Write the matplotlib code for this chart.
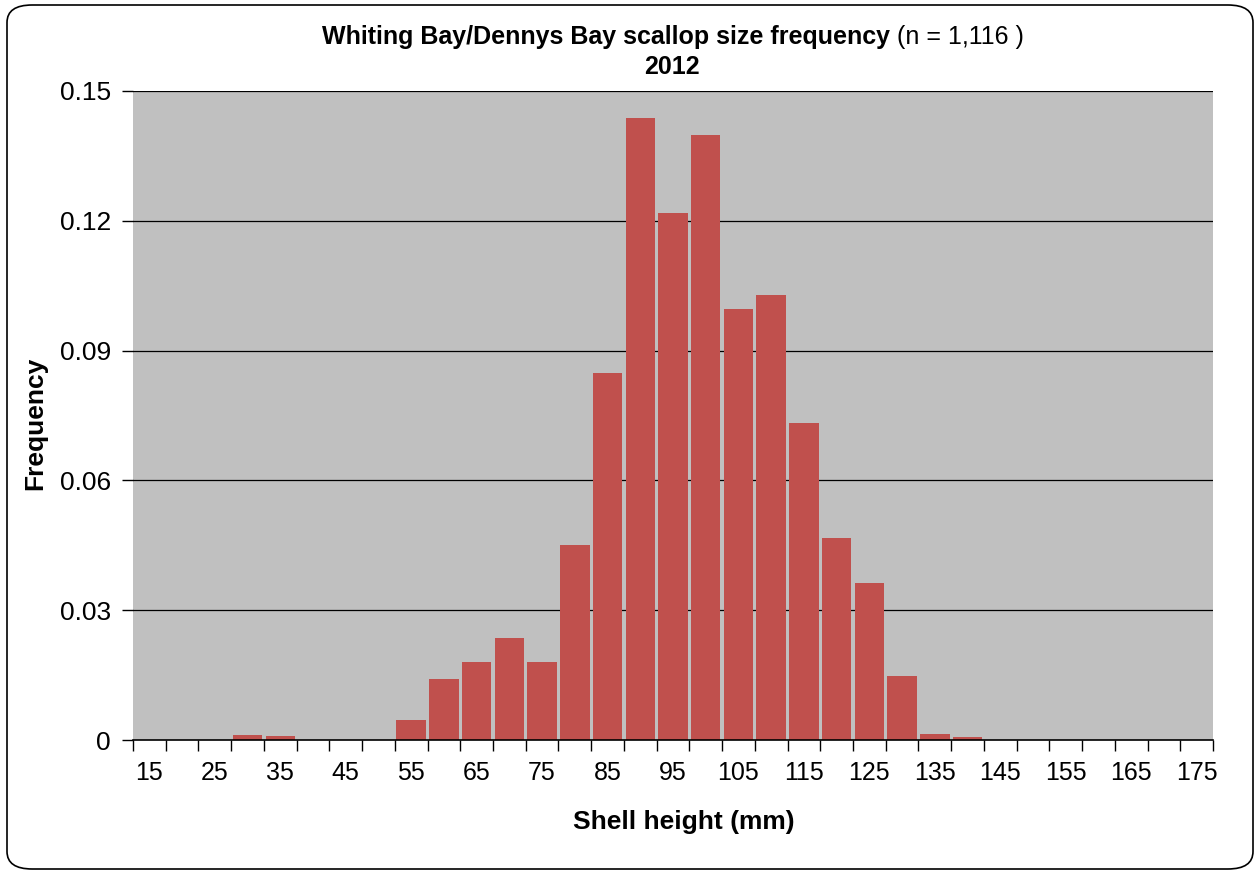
import matplotlib
matplotlib.use("Agg")
import matplotlib.pyplot as plt
from matplotlib.patches import FancyBboxPatch
from matplotlib.ticker import FixedLocator, NullFormatter

# Shell-height bins (mm) and relative frequency
bins = list(range(15, 180, 5))
freq = [0, 0, 0, 0.0012, 0.0009, 0, 0, 0,
        0.0046, 0.0141, 0.0180, 0.0236, 0.0180, 0.0450, 0.0848,
        0.1437, 0.1218, 0.1398, 0.0996, 0.1028, 0.0733, 0.0467,
        0.0363, 0.0148, 0.0014, 0.0007,
        0, 0, 0, 0, 0, 0, 0]
y_ticks = [0, 0.03, 0.06, 0.09, 0.12, 0.15]
y_labels = ["0", "0.03", "0.06", "0.09", "0.12", "0.15"]

plt.rcParams["font.family"] = ["Liberation Sans", "DejaVu Sans"]

fig = plt.figure(figsize=(12.59, 8.74), dpi=100)
ax = fig.add_axes([133 / 1259, 1 - 740 / 874, 1080 / 1259, 649 / 874])
ax.set_facecolor("#C0C0C0")

pos = list(range(len(bins)))
ax.bar(pos, freq, width=0.9, color="#C0504D", zorder=3)

ax.set_xlim(-0.5, len(bins) - 0.5)
ax.set_ylim(0, 0.15)

# x: labels every other bin, tick marks on bin edges
ax.xaxis.set_major_locator(FixedLocator(pos[::2]))
ax.set_xticklabels([str(b) for b in bins[::2]])
ax.xaxis.set_minor_locator(FixedLocator([p - 0.5 for p in pos] + [pos[-1] + 0.5]))
ax.xaxis.set_minor_formatter(NullFormatter())
ax.tick_params(axis="x", which="major", length=0, pad=15, labelsize=18)
ax.tick_params(axis="x", which="minor", length=8, width=1, direction="out")

ax.set_yticks(y_ticks)
ax.set_yticklabels(y_labels)
ax.tick_params(axis="y", length=8, width=1, direction="out", pad=8, labelsize=19)

for v in y_ticks[1:]:
    ax.axhline(v, color="black", lw=0.9, zorder=2)

for s in ("top", "right", "left"):
    ax.spines[s].set_visible(False)
ax.spines["bottom"].set_linewidth(1.2)
ax.spines["bottom"].set_zorder(4)

fig.text(684 / 1259, 1 - 822 / 874, "Shell height (mm)", fontsize=19,
         fontweight="bold", ha="center", va="center")
fig.text(35 / 1259, 1 - 423 / 874, "Frequency", fontsize=19, fontweight="bold",
         rotation=90, ha="center", va="center")

# Title: bold main text with normal-weight sample size
t1 = fig.text(0, 1 - 37 / 874, "Whiting Bay/Dennys Bay scallop size frequency",
              fontsize=18, fontweight="bold", ha="left", va="center")
t2 = fig.text(0, 1 - 37 / 874, " (n = 1,116 )", fontsize=18, ha="left", va="center")
fig.canvas.draw()
r = fig.canvas.get_renderer()
w1 = t1.get_window_extent(r).width
w2 = t2.get_window_extent(r).width
x0 = (673 - (w1 + w2) / 2) / 1259
t1.set_x(x0)
t2.set_x(x0 + w1 / 1259)
fig.text(672 / 1259, 1 - 67 / 874, "2012", fontsize=18, fontweight="bold",
         ha="center", va="center")

# Rounded chart border
border = FancyBboxPatch((7 / 1259, 5 / 874), 1246 / 1259, 864 / 874,
                        boxstyle="round,pad=0,rounding_size=0.02",
                        transform=fig.transFigure, fill=False,
                        edgecolor="black", lw=1.2)
fig.patches.append(border)

fig.savefig("out.png", dpi=100)
